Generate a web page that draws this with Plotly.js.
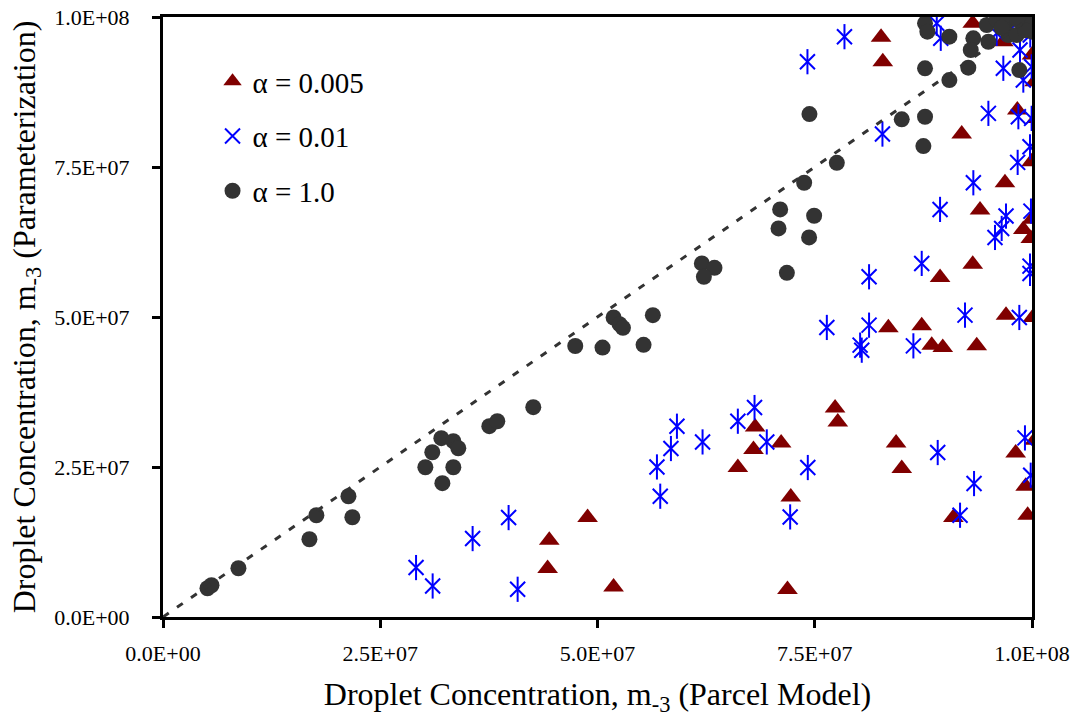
<!DOCTYPE html>
<html>
<head>
<meta charset="utf-8">
<script src="https://cdn.plot.ly/plotly-3.0.1.min.js"></script>
<style>html,body{margin:0;padding:0;background:#fff;}#chart{width:1083px;height:719px;}</style>
</head>
<body>
<div id="chart"></div>
<script>
// values in units of 1e6 droplets per m^3
const UNIT = 1e6;

const a005_parcel = [44.45,44.26,48.86,51.85,66.15,67.95,68.14,71.13,72.24,71.86,77.34,77.65,84.36,85.01,90.95,98.12,99.27,99.50,100.3,96.89,94.02,93.18,89.42,100.0,99.0,99.86,97.01,100.1,83.47,87.31,88.46,89.73,93.64,91.91,99.96,82.63,82.83,93.18,96.70,100.0,100.3,98.31,100.5,100.0];
const a005_param  = [12.79,8.07,16.57,5.00,24.91,27.91,31.68,29.02,20.01,4.57,34.85,32.52,29.02,24.75,16.57,27.35,21.79,16.96,29.46,72.37,67.82,58.81,56.59,66.3,64.6,63.1,50.31,49.92,48.19,48.53,45.31,44.91,45.19,80.49,75.87,96.61,92.55,98.95,95.88,93.66,89.2,84.5,83.1,99.0];

const a01_parcel = [29.12,31.03,35.63,39.77,40.81,57.22,56.84,58.45,59.14,62.09,66.15,68.07,69.48,74.20,72.17,89.15,93.33,91.72,99.19,99.85,93.25,89.42,97.01,96.51,95.74,99.88,87.31,81.25,99.77,99.77,92.29,98.54,76.39,81.25,80.22,80.41,86.35,78.42,74.16,82.79,89.04,89.50,98.62,96.70,99.96,99.0,94.98,98.43,99.96,99.77,98.35,99.39,95.94,99.8,98.2];
const a01_param  = [8.24,5.17,13.07,16.57,4.62,20.13,25.01,28.08,31.80,29.18,32.63,34.91,29.18,24.91,16.68,27.41,22.24,16.96,29.85,23.63,72.37,67.93,66.82,64.76,63.26,67.65,58.93,56.70,58.48,57.26,50.31,49.92,48.26,48.64,45.31,44.47,45.19,96.72,92.55,80.49,98.95,96.45,94.50,91.45,91.71,89.49,83.94,83.38,83.1,78.37,75.77,99.50,97.28,97.0,98.9];

const a1_parcel = [5.12,5.58,8.68,16.85,17.65,21.34,21.79,30.19,30.99,32.03,33.41,33.98,33.41,32.15,37.55,38.47,42.61,47.44,50.58,51.85,52.54,52.93,55.30,56.37,62.01,63.46,62.24,71.79,71.02,70.83,74.93,74.35,73.78,74.39,85.01,87.69,87.69,87.50,77.54,87.69,87.96,90.49,93.25,92.95,94.98,94.79,95.94,97.09,97.28,99.0,99.77,100.0,98.54,92.67,90.49,98.24,99.8,99.2,96.5,98.3];
const a1_param  = [4.79,5.29,8.12,12.96,16.96,20.13,16.63,24.96,27.46,29.80,29.30,28.13,24.96,22.30,31.80,32.63,34.97,45.17,44.91,49.92,48.80,48.19,45.36,50.31,58.93,58.20,56.70,57.36,67.93,64.76,66.87,63.26,72.37,83.82,82.94,83.38,91.45,78.49,75.70,98.95,97.55,96.72,96.45,94.50,95.88,98.67,99.50,99.22,97.00,98.67,99.78,97.55,91.16,91.55,89.49,97.0,98.6,97.8,98.2,99.6];

const oneToOne = [0, 100];

const tickVals = [0, 25, 50, 75, 100];
const tickText = ["0.0E+00","2.5E+07","5.0E+07","7.5E+07","1.0E+08"];

const seriesNames = ["\u03b1 = 0.005", "\u03b1 = 0.01", "\u03b1 = 1.0"];

const s = a => a.map(v => v * UNIT);
const FONT = "Liberation Serif";

const traces = [
  {x: s(a005_parcel), y: s(a005_param), type:'scatter', mode:'markers', name: seriesNames[0],
   legendgroup:'g1', marker:{symbol:'triangle-up', size:18, color:'#800000'}},
  {x: s(a01_parcel), y: s(a01_param), type:'scatter', mode:'markers', name: seriesNames[1],
   legendgroup:'g2', marker:{symbol:'x-thin-open', size:15, color:'#0000ff', line:{color:'#0000ff', width:2}}},
  {x: s(a01_parcel), y: s(a01_param), type:'scatter', mode:'markers', name: seriesNames[1],
   legendgroup:'g2', showlegend:false, marker:{symbol:'line-ns-open', size:18, color:'#0000ff', line:{color:'#0000ff', width:2}}},
  {x: s(a1_parcel), y: s(a1_param), type:'scatter', mode:'markers', name: seriesNames[2],
   legendgroup:'g3', marker:{symbol:'circle', size:16, color:'#333333'}},
  {x: s(oneToOne), y: s(oneToOne), type:'scatter', mode:'lines', showlegend:false, hoverinfo:'skip',
   line:{color:'#333333', width:3, dash:'7px,10px'}}
];

const axisCommon = {
  range:[0, 100*UNIT], showgrid:false, zeroline:false, showline:true, linecolor:'#000', linewidth:3,
  mirror:true, ticks:'outside', ticklen:8, tickwidth:3, tickcolor:'#000',
  tickmode:'array', tickvals: s(tickVals), ticktext: tickText,
  tickfont:{family:FONT, size:22, color:'#000'}
};
const minorCommon = {
  range:[0, 100*UNIT], showgrid:false, zeroline:false, showline:false,
  ticks:'inside', ticklen:7, tickwidth:2.5, tickcolor:'#000', tickmode:'linear', tick0:0, dtick:5*UNIT,
  showticklabels:false
};

const layout = {
  width:1083, height:719,
  font:{family:FONT, color:'#000'},
  margin:{l:162.5, r:51, t:17, b:102},
  paper_bgcolor:'#fff', plot_bgcolor:'#fff',
  showlegend:true,
  legend:{x:0.057, y:0.935, xanchor:'left', yanchor:'top', bgcolor:'rgba(0,0,0,0)',
    font:{family:FONT, size:29, color:'#000'}, traceorder:'grouped', tracegroupgap:14},
  xaxis: Object.assign({}, axisCommon, {
    ticklabelstandoff:7,
    title:{text:'Droplet Concentration, m<sub>-3</sub> (Parcel Model)', font:{family:FONT, size:32, color:'#000'}, standoff:18}
  }),
  yaxis: Object.assign({}, axisCommon, {
    ticklabelstandoff:18,
    title:{text:'Droplet Concentration, m<sub>-3</sub> (Parameterization)', font:{family:FONT, size:32, color:'#000'}, standoff:10}
  }),
  xaxis2: Object.assign({}, minorCommon, {overlaying:'x', anchor:'y', side:'bottom'}),
  yaxis2: Object.assign({}, minorCommon, {overlaying:'y', anchor:'x', side:'left'})
};

Plotly.newPlot('chart', traces, layout, {displayModeBar:false, staticPlot:true});
</script>
</body>
</html>
